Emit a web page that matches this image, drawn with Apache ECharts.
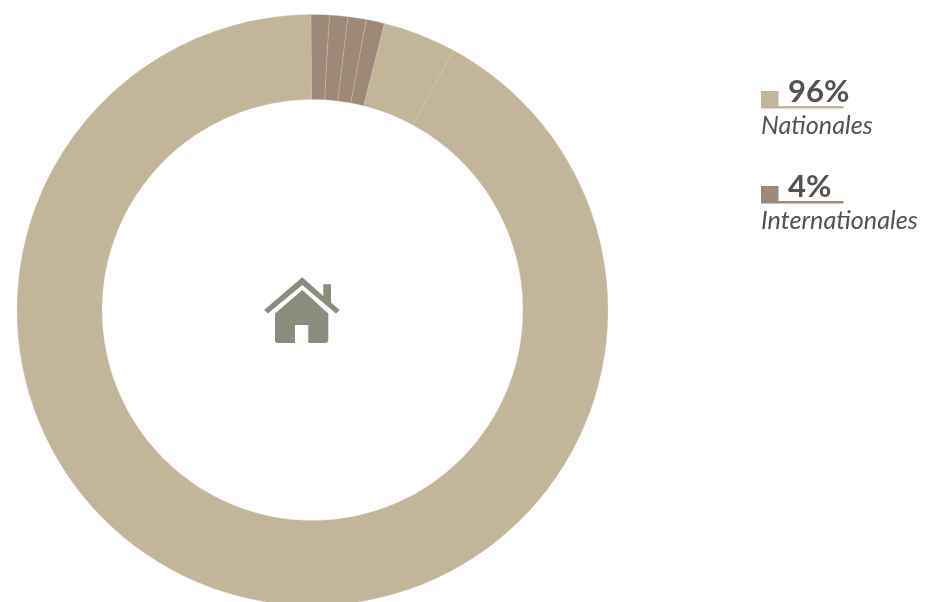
<!DOCTYPE html>
<html><head><meta charset="utf-8">
<style>html,body{margin:0;padding:0;background:#fff}#c{width:926px;height:602px}</style>
<script src="https://cdn.jsdelivr.net/npm/echarts@6/dist/echarts.min.js"></script>
</head><body><div id="c"></div>
<script>
const sliceNames = ['Internationales','Internationales','Internationales','Internationales','Nationales','Nationales'];
const sliceValues = [1,1,1,1,4,92];
const legendNames = ['Nationales','Internationales'];
const legendValues = ['96%','4%'];
const sliceColors = {Nationales:'#c3b59a',Internationales:'#9e8878'};
const ink='#525254', font='Lato, Carlito, sans-serif', iconC='#8a8c7e';
const chart = echarts.init(document.getElementById('c'),null,{renderer:'canvas'});
const legendY=[0,95];
const g=[];
legendNames.forEach((n,i)=>{
  const y=legendY[i], c=sliceColors[n];
  g.push({type:'rect',shape:{x:761,y:91+y,width:17.5,height:17},style:{fill:c}});
  g.push({type:'rect',shape:{x:761,y:106+y,width:82.5,height:2.4},style:{fill:c}});
  g.push({type:'text',style:{x:788,y:107.5+y,text:legendValues[i],fill:ink,font:'bold 31px '+font,verticalAlign:'bottom'},z:5});
  g.push({type:'text',style:{x:761,y:138+y,text:n,fill:ink,font:'italic 25.2px '+font,verticalAlign:'bottom'},z:5});
});
g.push({type:'polygon',shape:{points:[[302.3,277.3],[264,310],[267.8,313.6],[302.3,285],[336,313.6],[339.5,310],[331,302.5],[331,284.3],[323.3,284.3],[323.3,296]]},style:{fill:iconC}});
g.push({type:'polygon',shape:{points:[[302.3,290],[275,313.5],[275,341],[276.5,343],[295,343],[295,325],[308.3,325],[308.3,343],[326.5,343],[328.3,341],[328.3,313.5]]},style:{fill:iconC}});
chart.setOption({
  animation:false,
  backgroundColor:'#fff',
  series:[{type:'pie',center:[312.5,310],radius:[210.5,295.5],startAngle:90.3,clockwise:true,
    silent:true,label:{show:false},labelLine:{show:false},
    itemStyle:{borderColor:'rgba(214,205,188,0.55)',borderWidth:0.5},
    data:sliceValues.map((v,i)=>({value:v,name:sliceNames[i],itemStyle:{color:sliceColors[sliceNames[i]]}}))}],
  graphic:g
});
</script></body></html>
